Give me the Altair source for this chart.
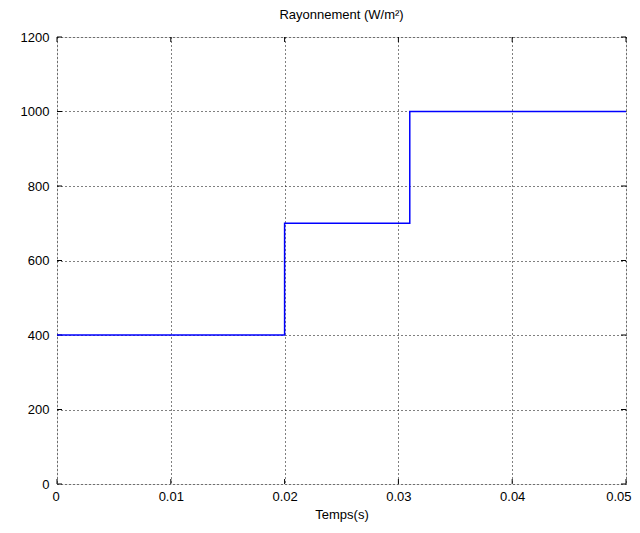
import altair as alt
import pandas as pd

# step signal: irradiance (W/m²) vs time (s)
times = [0.0, 0.02, 0.02, 0.031, 0.031, 0.05]
irradiance = [400, 400, 700, 700, 1000, 1000]
x_ticks = [0, 0.01, 0.02, 0.03, 0.04, 0.05]
y_ticks = [0, 200, 400, 600, 800, 1000, 1200]

df = pd.DataFrame({"t": times, "g": irradiance, "i": list(range(len(times)))})
xt = pd.DataFrame({"t": x_ticks})
yt = pd.DataFrame({"g": y_ticks})

FONT = "Liberation Sans"
W, H = 569, 447

xscale = alt.Scale(domain=[0, 0.05], nice=False, zero=False)
yscale = alt.Scale(domain=[0, 1200], nice=False)

xaxis = alt.Axis(values=x_ticks, format="~g", title="Temps(s)", grid=True,
                 gridColor="black", gridDash=[1, 3], gridOpacity=1, gridWidth=1,
                 ticks=False, domain=False, labelFont=FONT, labelFontSize=13,
                 labelColor="black", labelPadding=6, titleFont=FONT,
                 titleFontSize=13, titleFontWeight="normal", titleColor="black",
                 titlePadding=5, labelFlush=True, labelFlushOffset=5)
yaxis = alt.Axis(values=y_ticks, format="d", title=None, grid=True,
                 gridColor="black", gridDash=[1, 3], gridOpacity=1, gridWidth=1,
                 ticks=False, domain=False, labelFont=FONT, labelFontSize=13,
                 labelColor="black", labelPadding=8, labelFlush=False)

line = alt.Chart(df).mark_line(color="#0000ff", strokeWidth=1.5).encode(
    x=alt.X("t:Q", scale=xscale, axis=xaxis),
    y=alt.Y("g:Q", scale=yscale, axis=yaxis),
    order=alt.Order("i:Q"),
)

tk = 5
xt_bot = alt.Chart(xt).mark_rule(color="black").encode(
    x=alt.X("t:Q", scale=xscale), y=alt.value(H), y2=alt.value(H - tk))
xt_top = alt.Chart(xt).mark_rule(color="black").encode(
    x=alt.X("t:Q", scale=xscale), y=alt.value(0), y2=alt.value(tk))
yt_l = alt.Chart(yt).mark_rule(color="black").encode(
    y=alt.Y("g:Q", scale=yscale), x=alt.value(0), x2=alt.value(tk))
yt_r = alt.Chart(yt).mark_rule(color="black").encode(
    y=alt.Y("g:Q", scale=yscale), x=alt.value(W), x2=alt.value(W - tk))

chart = alt.layer(xt_bot, xt_top, yt_l, yt_r, line).properties(
    width=W, height=H,
    title=alt.TitleParams("Rayonnement (W/m²)", font=FONT, fontSize=13,
                          fontWeight="normal", color="black", offset=9),
    autosize=alt.AutoSizeParams(type="none"),
    padding={"left": 49, "top": 29, "right": 6, "bottom": 41},
).configure_view(stroke="black", strokeWidth=1).configure(background="white")

chart.save("out.html", embed_options={"renderer": "svg", "actions": False})
